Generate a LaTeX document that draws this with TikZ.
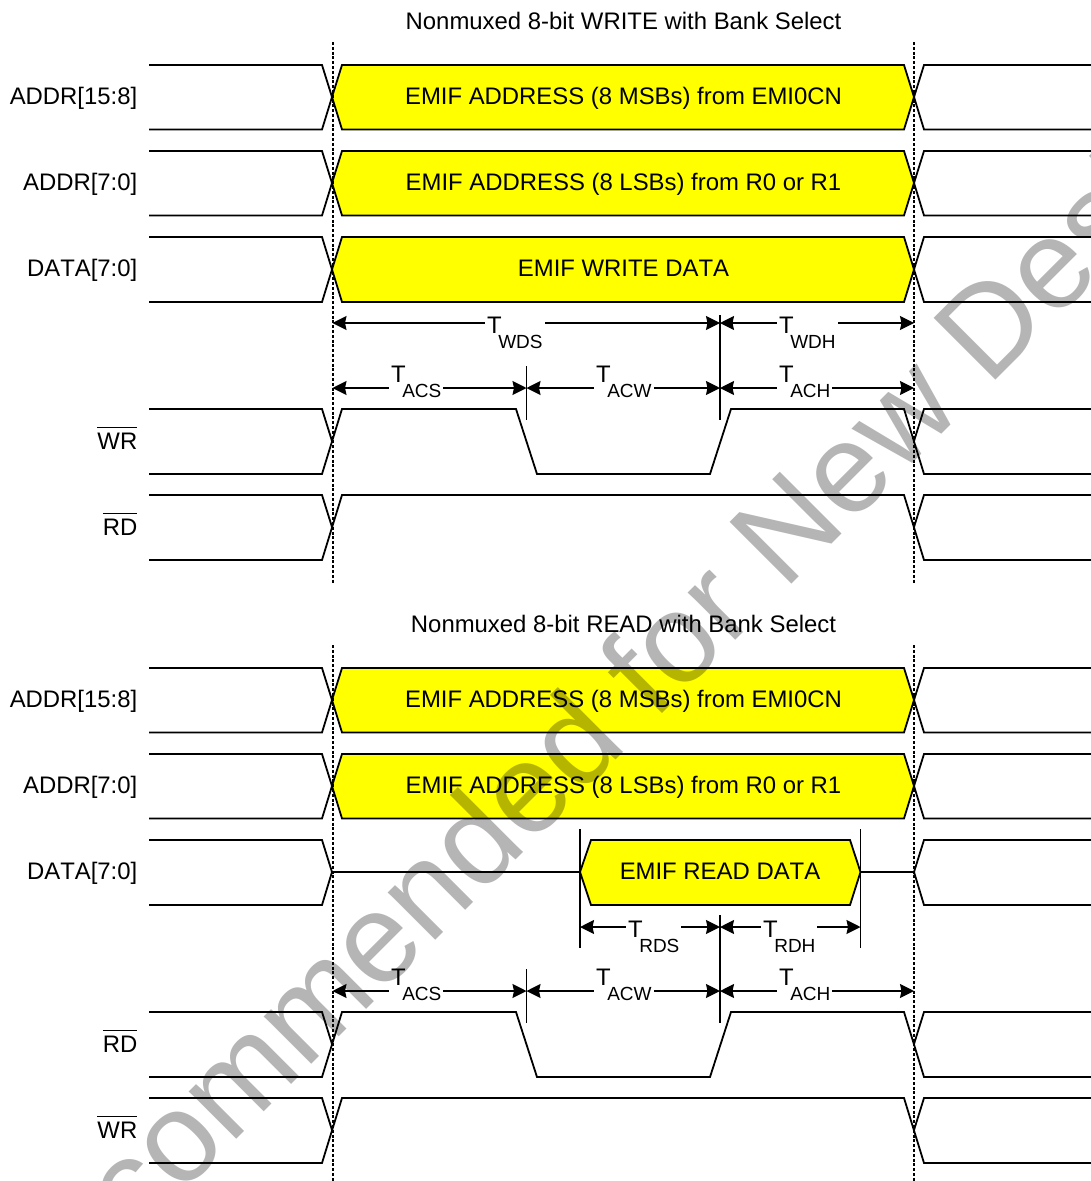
\documentclass[tikz,border=0pt]{standalone}
\usepackage{fontspec}
\setmainfont[Kerning=Off]{Liberation Sans}
\usetikzlibrary{arrows.meta}
\definecolor{buscolor}{RGB}{255,255,0}
\definecolor{markgray}{RGB}{181,181,181}
\newcommand{\barsig}[1]{\vbox{\hrule height 1.4pt \kern 4.5pt \hbox{#1}}}
\newcommand{\tsub}[1]{T\kern-3.5pt\raisebox{-15pt}{\fontsize{19}{19}\selectfont #1}}
\tikzset{
  wave/.style = {line width = 1.8pt, line join = miter},
  bus/.style = {wave, fill = buscolor},
  edgeline/.style = {line width = 2pt, dash pattern = on 3pt off 1.8pt},
  tick/.style = {line width = 1.4pt},
  span/.style = {line width = 1.4pt, {Stealth[length=14pt,width=14pt,inset=1.5pt]}-{Stealth[length=14pt,width=14pt,inset=1.5pt]}},
  txt/.style = {font = \fontsize{23.9}{24}\selectfont, inner sep = 0pt},
  tlabel/.style = {txt, fill = white, inner xsep = 2pt, anchor = base west}
}
\begin{document}
\begin{tikzpicture}[x = 1pt, y = -1pt]
    \fill[white] (0,0) rectangle (1091,1181);
    \useasboundingbox (0,0) rectangle (1091,1181);
    % parts that both halves share
    \foreach \yo/\part/\ttl/\first/\second in {0/w/WRITE/WR/RD, 603/r/READ/RD/WR} {
    \begin{scope}[shift = {(0,\yo)}]
        \node[txt, anchor = base] (title\part) at (623.5,29) {Nonmuxed 8-bit \ttl{} with Bank Select};
        \coordinate (edgeA\part) at (332.5,42);
        \coordinate (edgeB\part) at (914,42);
        \coordinate (edgeC\part) at (332.5,583);
        \coordinate (edgeD\part) at (914,583);
        % address rows
        \foreach \y/\sig/\msg in {65/ADDR[15:8]/EMIF ADDRESS (8 MSBs) from EMI0CN, 151/ADDR[7:0]/EMIF ADDRESS (8 LSBs) from R0 or R1} {
            \draw[wave] (149,\y) -- (322,\y) -- (332,\y+32) -- (322,\y+64.5) -- (149,\y+64.5);
            \draw[bus] (332,\y+32) -- (342,\y) -- (904,\y) -- (914,\y+32) -- (904,\y+64.5) -- (342,\y+64.5) -- cycle;
            \draw[wave] (1091,\y) -- (924,\y) -- (914,\y+32) -- (924,\y+64.5) -- (1091,\y+64.5);
            \node[txt, anchor = base east] (sig\part\y) at (137.5,\y+39.85) {\sig};
            \node[txt, anchor = base] (msg\part\y) at (623.5,\y+39.85) {\msg};
        }
        \node[txt, anchor = base east] (sig\part) at (137.5,276.85) {DATA[7:0]};
        % strobes
        \draw[wave] (149,409) -- (322,409) -- (332,441);
        \draw[wave] (149,474) -- (322,474) -- (342,409) -- (516,409) -- (537,474) -- (710,474) -- (731,409) -- (904,409) -- (924,474) -- (1091,474);
        \draw[wave] (914,441) -- (924,409) -- (1091,409);
        \draw[wave] (149,495) -- (322,495) -- (332,527);
        \draw[wave] (149,560) -- (322,560) -- (342,495) -- (904,495) -- (924,560) -- (1091,560);
        \draw[wave] (914,527) -- (924,495) -- (1091,495);
        \node[txt, anchor = base east] (strobeA\part) at (137.5,449) {\barsig{\first}};
        \node[txt, anchor = base east] (strobeB\part) at (137.5,535) {\barsig{\second}};
        \draw[edgeline] (edgeA\part) -- (edgeC\part);
        \draw[edgeline] (edgeB\part) -- (edgeD\part);
        % timing marks
        \coordinate (acsL\part) at (332.5,388);
        \coordinate (acsR\part) at (526.5,388);
        \coordinate (acwR\part) at (720,388);
        \coordinate (achR\part) at (914,388);
        \coordinate (acsT\part) at (526.5,366);
        \coordinate (acsB\part) at (526.5,420);
        \coordinate (acwB\part) at (720,420);
        \draw[tick] (acsT\part) -- (acsB\part);
        \draw[span] (acsL\part) -- (acsR\part);
        \draw[span] (acsR\part) -- (acwR\part);
        \draw[span] (acwR\part) -- (achR\part);
        \node[tlabel] (tacs\part) at (389,382) {\tsub{ACS}};
        \node[tlabel] (tacw\part) at (594,382) {\tsub{ACW}};
        \node[tlabel] (tach\part) at (777,382) {\tsub{ACH}};
    \end{scope}
    }
    % write data row
    \draw[wave] (149,237) -- (322,237) -- (332,269.5) -- (322,302) -- (149,302);
    \draw[bus] (332,269.5) -- (342,237) -- (904,237) -- (914,269.5) -- (904,302) -- (342,302) -- cycle;
    \draw[wave] (1091,237) -- (924,237) -- (914,269.5) -- (924,302) -- (1091,302);
    \node[txt, anchor = base] (wdata) at (623.5,276.85) {EMIF WRITE DATA};
    \coordinate (wdsL) at (332.5,323);
    \coordinate (wdsR) at (720,323);
    \coordinate (wdhR) at (914,323);
    \coordinate (wdsT) at (720,315);
    \coordinate (wdsB) at (720,420);
    \draw[tick] (wdsT) -- (wdsB);
    \draw[span] (wdsL) -- (wdsR);
    \draw[span] (wdsR) -- (wdhR);
    \node[tlabel] (twds) at (485,333) {\tsub{WDS}};
    \node[tlabel] (twdh) at (777,333) {\tsub{WDH}};
    % read data row
    \draw[wave] (149,840) -- (322,840) -- (332,872) -- (322,905) -- (149,905);
    \draw[wave] (1091,840) -- (924,840) -- (914,872) -- (924,905) -- (1091,905);
    \draw[bus] (580,872) -- (591,840) -- (850,840) -- (860.5,872) -- (850,905) -- (591,905) -- cycle;
    \draw[wave] (332,872) -- (580,872);
    \draw[wave] (860.5,872) -- (914,872);
    \node[txt, anchor = base] (rdata) at (720,879.85) {EMIF READ DATA};
    \coordinate (rdsT) at (580,829);
    \coordinate (rdsB) at (580,948);
    \coordinate (rdhT) at (860.5,829);
    \coordinate (rdhB) at (860.5,948);
    \coordinate (rdsL) at (580,927);
    \coordinate (rdsR) at (720,927);
    \coordinate (rdhR) at (860.5,927);
    \coordinate (rdmT) at (720,915);
    \coordinate (rdmB) at (720,1023);
    \draw[tick] (rdsT) -- (rdsB);
    \draw[tick] (rdhT) -- (rdhB);
    \draw[tick] (rdmT) -- (rdmB);
    \draw[span] (rdsL) -- (rdsR);
    \draw[span] (rdsR) -- (rdhR);
    \node[tlabel] (trds) at (626,937) {\tsub{RDS}};
    \node[tlabel] (trdh) at (761,937) {\tsub{RDH}};
    % watermark
    \begin{scope}[blend mode = multiply]
        \node[anchor = base west, rotate = 45, inner sep = 0pt, text = markgray, font = \fontsize{127}{127}\selectfont] (stamp) at (-144,1520) {Not Recommended for New Designs};
    \end{scope}
\end{tikzpicture}
\end{document}
